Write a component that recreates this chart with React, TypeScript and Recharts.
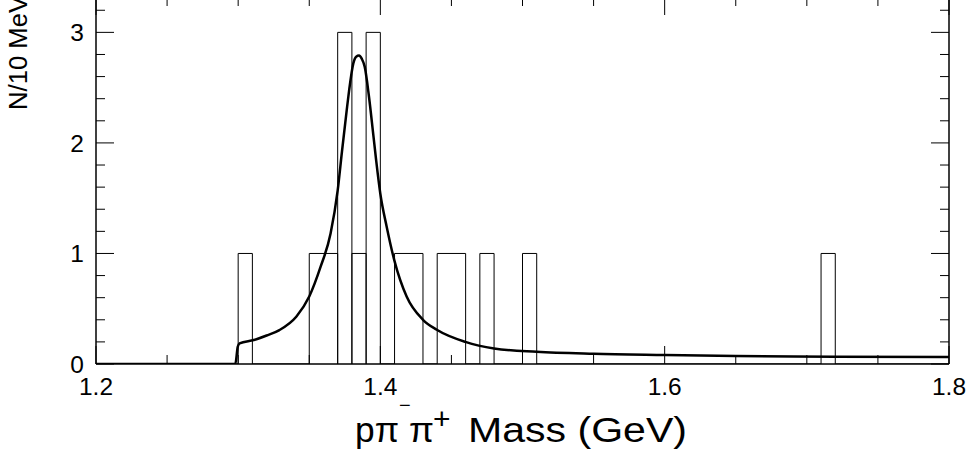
import React from "react";
import { ComposedChart, Line, XAxis, YAxis } from "recharts";

// Histogram: low edges of non-empty 10 MeV bins and their counts
const binLowEdges = [1.3, 1.35, 1.36, 1.37, 1.38, 1.39, 1.41, 1.42, 1.44, 1.45, 1.47, 1.5, 1.71];
const binCounts = [1, 1, 1, 3, 1, 3, 1, 1, 1, 1, 1, 1, 1];

// Fitted curve
const curveMass = [
  1.2, 1.298, 1.2997, 1.301, 1.311, 1.32, 1.329, 1.341, 1.35, 1.358, 1.365, 1.37, 1.373, 1.3763,
  1.378, 1.381, 1.383, 1.385, 1.387, 1.389, 1.392, 1.395, 1.397, 1.4, 1.4045, 1.4098, 1.4185,
  1.43, 1.4397, 1.4598, 1.48, 1.51, 1.55, 1.6, 1.65, 1.72, 1.8,
];
const curveValue = [
  0, 0, 0.156, 0.187, 0.217, 0.258, 0.307, 0.43, 0.61, 0.88, 1.18, 1.57, 1.92, 2.29,
  2.47, 2.72, 2.78, 2.79, 2.76, 2.69, 2.42, 2.08, 1.85, 1.54, 1.24, 0.94, 0.61,
  0.4, 0.31, 0.2, 0.14, 0.11, 0.092, 0.081, 0.072, 0.066, 0.064,
];

const xTicks = [1.2, 1.25, 1.3, 1.35, 1.4, 1.45, 1.5, 1.55, 1.6, 1.65, 1.7, 1.75, 1.8];
const xMajorLabels = ["1.2", "1.4", "1.6", "1.8"];
const yTicks = [0, 0.2, 0.4, 0.6, 0.8, 1, 1.2, 1.4, 1.6, 1.8, 2, 2.2, 2.4, 2.6, 2.8, 3, 3.2];
const yMajorLabels = ["0", "1", "2", "3"];

const BIN_WIDTH = 0.01;
const X_MIN = 1.2;
const X_MAX = 1.8;
const Y_MAX = 3.32;

// Build histogram outline from the bins
const countByKey: Record<number, number> = {};
binLowEdges.forEach((e, i) => {
  countByKey[Math.round(e / BIN_WIDTH)] = binCounts[i];
});
const histOutline: { m: number; n: number }[] = [{ m: X_MIN, n: 0 }];
{
  let prev = 0;
  const k0 = Math.round(X_MIN / BIN_WIDTH);
  const k1 = Math.round(X_MAX / BIN_WIDTH);
  for (let k = k0; k <= k1; k++) {
    const c = k < k1 ? countByKey[k] || 0 : 0;
    const x = k * BIN_WIDTH;
    if (c !== prev) {
      histOutline.push({ m: x, n: prev });
      histOutline.push({ m: x, n: 0 });
      histOutline.push({ m: x, n: c });
      prev = c;
    }
  }
  histOutline.push({ m: X_MAX, n: 0 });
}

const curveData = curveMass.map((m, i) => ({ m, v: curveValue[i] }));

const FONT = "'Liberation Sans', Arial, Helvetica, sans-serif";
const near = (a: number, b: number) => Math.abs(a - b) < 1e-6;
const isXMajor = (v: number) => xMajorLabels.some((l) => near(parseFloat(l), v));
const isYMajor = (v: number) => yMajorLabels.some((l) => near(parseFloat(l), v));

const BottomTick = (p: any) => {
  const v = p.payload.value;
  const major = isXMajor(v);
  return (
    <g>
      <line x1={p.x} x2={p.x} y1={p.y} y2={p.y - (major ? 18 : 9)} stroke="#000" strokeWidth={1} />
      {major && (
        <text x={p.x} y={p.y + 31} textAnchor="middle" fontFamily={FONT} fontSize={24.5} fill="#000">
          {xMajorLabels.find((l) => near(parseFloat(l), v))}
        </text>
      )}
    </g>
  );
};
const TopTick = (p: any) => {
  const major = isXMajor(p.payload.value);
  return <line x1={p.x} x2={p.x} y1={p.y} y2={p.y + (major ? 18 : 9)} stroke="#000" strokeWidth={1} />;
};
const LeftTick = (p: any) => {
  const v = p.payload.value;
  const major = isYMajor(v);
  return (
    <g>
      <line x1={p.x} x2={p.x + (major ? 18 : 9)} y1={p.y} y2={p.y} stroke="#000" strokeWidth={1} />
      {major && (
        <text x={p.x - 12} y={p.y + 9} textAnchor="end" fontFamily={FONT} fontSize={24.5} fill="#000">
          {yMajorLabels.find((l) => near(parseFloat(l), v))}
        </text>
      )}
    </g>
  );
};
const RightTick = (p: any) => {
  const major = isYMajor(p.payload.value);
  return <line x1={p.x} x2={p.x - (major ? 18 : 9)} y1={p.y} y2={p.y} stroke="#000" strokeWidth={1} />;
};

const axisStroke = { stroke: "#000", strokeWidth: 1.5 };

export default function App() {
  return (
    <div style={{ position: "absolute", left: 0, top: 0, width: 969, height: 460, background: "#fff", overflow: "hidden" }}>
      <div style={{ position: "absolute", left: 0, top: -4 }}>
        <ComposedChart width={969} height={464} margin={{ top: 0, right: 19, bottom: 95, left: 95 }}>
          <XAxis
            xAxisId="x"
            dataKey="m"
            type="number"
            domain={[X_MIN, X_MAX]}
            allowDataOverflow
            ticks={xTicks}
            interval={0}
            height={1}
            tickSize={0}
            tickMargin={0}
            tickLine={false}
            axisLine={axisStroke}
            tick={<BottomTick />}
          />
          <XAxis
            xAxisId="top"
            orientation="top"
            dataKey="m"
            type="number"
            domain={[X_MIN, X_MAX]}
            allowDataOverflow
            ticks={xTicks}
            interval={0}
            height={1}
            tickSize={0}
            tickMargin={0}
            tickLine={false}
            axisLine={axisStroke}
            tick={<TopTick />}
          />
          <YAxis
            yAxisId="y"
            type="number"
            domain={[0, Y_MAX]}
            allowDataOverflow
            ticks={yTicks}
            interval={0}
            width={1}
            tickSize={0}
            tickMargin={0}
            tickLine={false}
            axisLine={axisStroke}
            tick={<LeftTick />}
          />
          <YAxis
            yAxisId="right"
            orientation="right"
            type="number"
            domain={[0, Y_MAX]}
            allowDataOverflow
            ticks={yTicks}
            interval={0}
            width={1}
            tickSize={0}
            tickMargin={0}
            tickLine={false}
            axisLine={axisStroke}
            tick={<RightTick />}
          />
          <Line
            xAxisId="top"
            yAxisId="right"
            data={histOutline}
            dataKey="n"
            type="linear"
            stroke="transparent"
            dot={false}
            isAnimationActive={false}
          />
          <Line
            xAxisId="x"
            yAxisId="y"
            data={histOutline}
            dataKey="n"
            type="linear"
            stroke="#000"
            strokeWidth={1}
            dot={false}
            isAnimationActive={false}
          />
          <Line
            xAxisId="x"
            yAxisId="y"
            data={curveData}
            dataKey="v"
            type="monotone"
            stroke="#000"
            strokeWidth={2.5}
            dot={false}
            isAnimationActive={false}
          />
        </ComposedChart>
      </div>
      <svg width={969} height={460} style={{ position: "absolute", left: 0, top: 0, pointerEvents: "none" }}>
        <text
          transform="translate(27,110) rotate(-90)"
          textAnchor="start"
          fontFamily={FONT}
          fontSize={25}
          fill="#000"
          textLength={114}
          lengthAdjust="spacingAndGlyphs"
        >
          N/10 MeV
        </text>
        <g fontFamily={FONT} fill="#000">
          <text x={355} y={442} fontSize={35} textLength={44} lengthAdjust="spacingAndGlyphs">pπ</text>
          <text x={399} y={412} fontSize={20}>−</text>
          <text x={409} y={442} fontSize={35} textLength={25} lengthAdjust="spacingAndGlyphs">π</text>
          <text x={433} y={429} fontSize={30}>+</text>
          <text x={468} y={442} fontSize={35} textLength={219} lengthAdjust="spacingAndGlyphs">
            Mass (GeV)
          </text>
        </g>
      </svg>
    </div>
  );
}
